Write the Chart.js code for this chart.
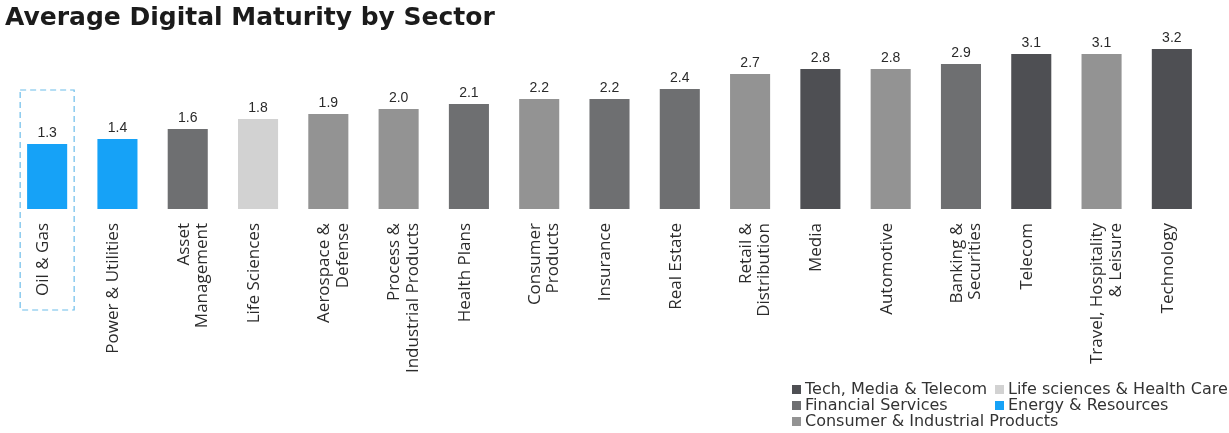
<!DOCTYPE html>
<html>
<head>
<meta charset="utf-8">
<script src="https://cdn.jsdelivr.net/npm/chart.js@4.4.1/dist/chart.umd.min.js"></script>
<style>
  html, body { margin: 0; padding: 0; background: #fff; }
  #wrap { position: relative; width: 1229px; height: 433px; }
  #chart { position: absolute; left: 0; top: 0; }
  #title {
    position: absolute; left: 5px; top: 2px;
    font: bold 25px "DejaVu Sans", Verdana, sans-serif; color: #1b1b1b;
  }
  #legend {
    position: absolute; left: 792px; top: 381px;
    font: 16px "DejaVu Sans", Verdana, sans-serif; color: #333;
    display: grid; grid-template-columns: 203px auto; line-height: 16px;
    white-space: nowrap;
  }
  #legend span.sw { display: inline-block; width: 9px; height: 9px; margin-right: 4px; }
</style>
</head>
<body>
<div id="wrap">
  <canvas id="chart" width="1229" height="433"></canvas>
  <div id="title">Average Digital Maturity by Sector</div>
  <div id="legend"></div>
</div>
<script>
// sectors, left to right
const sectors = [
  'Oil & Gas', 'Power & Utilities', ['Asset', 'Management'], 'Life Sciences',
  ['Aerospace &', 'Defense'], ['Process &', 'Industrial Products'], 'Health Plans',
  ['Consumer', 'Products'], 'Insurance', 'Real Estate', ['Retail &', 'Distribution'],
  'Media', 'Automotive', ['Banking &', 'Securities'], 'Telecom',
  ['Travel, Hospitality', '& Leisure'], 'Technology'
];
const maturity = [1.3, 1.4, 1.6, 1.8, 1.9, 2.0, 2.1, 2.2, 2.2, 2.4, 2.7, 2.8, 2.8, 2.9, 3.1, 3.1, 3.2];
// industry group of each sector (index into groupNames / groupColors)
const sectorGroup = [3, 3, 1, 4, 2, 2, 1, 2, 1, 1, 2, 0, 2, 1, 0, 2, 0];

const groupNames = ['Tech, Media & Telecom', 'Financial Services', 'Consumer & Industrial Products',
                    'Energy & Resources', 'Life sciences & Health Care'];
const groupColors = ['#4e4f53', '#6e6f71', '#939393', '#16a2f7', '#d2d2d2'];

// legend, two columns
const legendOrder = [0, 4, 1, 3, 2];
const legendBox = document.getElementById('legend');
legendOrder.forEach(g => {
  const d = document.createElement('div');
  d.innerHTML = `<span class="sw" style="background:${groupColors[g]}"></span>${groupNames[g]}`;
  legendBox.appendChild(d);
});

// numbers above bars
const valueLabels = {
  id: 'valueLabels',
  afterDatasetsDraw(chart) {
    const ctx = chart.ctx;
    const meta = chart.getDatasetMeta(0);
    ctx.save();
    ctx.font = '14px "Liberation Sans", Arial, sans-serif';
    ctx.fillStyle = '#2a2a2a';
    ctx.textAlign = 'center';
    ctx.textBaseline = 'bottom';
    meta.data.forEach((bar, i) => {
      ctx.fillText(maturity[i].toFixed(1), bar.x, bar.y - 4);
    });
    ctx.restore();
  }
};

// dashed highlight around the first sector
const highlight = {
  id: 'highlight',
  afterDraw(chart) {
    const ctx = chart.ctx;
    const bar = chart.getDatasetMeta(0).data[0];
    const x = chart.scales.x;
    ctx.save();
    ctx.strokeStyle = '#6cbdea';
    ctx.lineWidth = 1.2;
    ctx.setLineDash([6, 4]);
    ctx.strokeRect(bar.x - 27, bar.y - 54, 54, x.top + 101 - (bar.y - 54));
    ctx.restore();
  }
};

new Chart(document.getElementById('chart'), {
  type: 'bar',
  data: {
    labels: sectors,
    datasets: [{
      data: maturity,
      backgroundColor: sectorGroup.map(g => groupColors[g]),
      categoryPercentage: 1,
      barPercentage: 0.57
    }]
  },
  options: {
    responsive: false,
    animation: false,
    layout: { padding: { left: 12, right: 22, top: 9, bottom: 0 } },
    plugins: { legend: { display: false }, tooltip: { enabled: false } },
    scales: {
      y: { display: false, min: 0, max: 4 },
      x: {
        grid: { display: false, drawTicks: false },
        border: { display: false },
        afterFit(scale) { scale.height = 224; },
        ticks: {
          autoSkip: false, minRotation: 90, maxRotation: 90, padding: 14,
          labelOffset: -4,
          color: '#2b2b2b',
          font: { family: '"Open Sans", "Noto Sans", sans-serif', size: 17, lineHeight: 1.08 }
        }
      }
    }
  },
  plugins: [valueLabels, highlight]
});
</script>
</body>
</html>
